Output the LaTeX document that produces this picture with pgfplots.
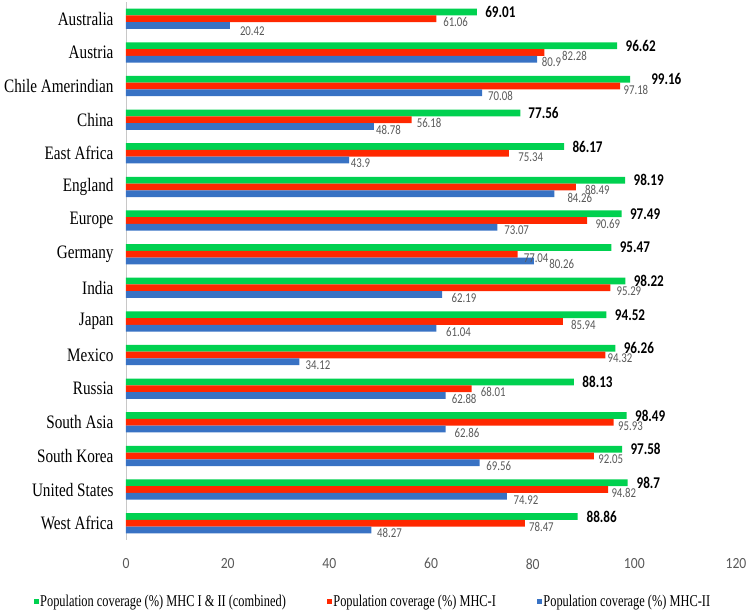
\documentclass[border=0pt]{standalone}
\usepackage{pgfplots}
\pgfplotsset{compat=1.18}
\usepackage{pgfplotstable}
\usepackage{fontspec}
\setmainfont{Liberation Serif}
\newfontfamily\catfont[FakeStretch=0.8]{Liberation Serif}
\newfontfamily\legfont[FakeStretch=0.75]{Liberation Serif}
\newfontfamily\tickfont[FakeStretch=0.88]{Carlito}
\newfontfamily\lblfont[FakeStretch=0.8]{Carlito}
\definecolor{cgreen}{RGB}{0,209,80}
\definecolor{cred}{RGB}{255,40,0}
\definecolor{cblue}{RGB}{56,114,196}
\definecolor{lblgray}{RGB}{89,89,89}
\definecolor{axgray}{RGB}{200,200,200}

% idx: category, comb/mhci/mhcii: values, gdx/rdx/bdx: label gaps (bp), bdy: blue label drop (bp)
\pgfplotstableread{
idx comb mhci mhcii gdx rdx bdx bdy
0 69.01 61.06 20.42 8.3 6.7 10 6
1 96.62 82.28 80.9 8.3 17.7 4.4 3
2 99.16 97.18 70.08 21 3.4 5.7 3.2
3 77.56 56.18 48.78 8 5 2 3.5
4 86.17 75.34 43.9 8.3 9.3 1.5 3.5
5 98.19 88.49 84.26 8.3 9 13 4
6 97.49 90.69 73.07 8.3 8.3 6.7 3
7 95.47 77.04 80.26 8.3 6 15.3 3.5
8 98.22 95.29 62.19 8.3 6 9.3 3.5
9 94.52 85.94 61.04 8.3 8 9.7 3.5
10 96.26 94.32 34.12 8.3 2 6 3.5
11 88.13 68.01 62.88 8.3 9 6 3.5
12 98.49 95.93 62.86 8.3 4.3 9 3.5
13 97.58 92.05 69.56 8.3 4.3 6.7 3.5
14 98.7 94.82 74.92 8.7 3.3 6.7 3.5
15 88.86 78.47 48.27 8.7 4 5.6 3.5
}\datatable

\begin{document}
\begin{tikzpicture}
\useasboundingbox (-126bp,-75bp) rectangle (623bp,540bp);
\begin{axis}[
  at={(0,0)}, anchor=south west,
  scale only axis, width=610bp, height=538bp,
  xbar, bar width=0.2,
  point meta=x,
  /pgf/number format/assume math mode=true,
  xmin=0, xmax=120, xtick={0,20,...,120},
  ymin=-0.5, ymax=15.5, y dir=reverse,
  ytick={0,...,15},
  yticklabels={Australia,Austria,Chile Amerindian,China,East Africa,England,Europe,Germany,India,Japan,Mexico,Russia,South Asia,South Korea,United States,West Africa},
  major tick length=0,
  axis y line*=left, axis x line*=bottom,
  x axis line style={draw=none},
  y axis line style={-, draw=axgray, line width=0.8bp},
  xticklabel style={font=\tickfont\fontsize{15.5bp}{18bp}\selectfont, text=lblgray, yshift=-15bp},
  yticklabel style={font=\catfont\fontsize{19bp}{22bp}\selectfont, text=black, xshift=-9bp},
  legend columns=3,
  legend cell align=left,
  legend style={at={(0,0)}, anchor=west, xshift=-92.5bp, yshift=-61.5bp,
    draw=none, fill=none, inner sep=0pt,
    font=\legfont\fontsize{16.5bp}{18bp}\selectfont,
    nodes={inner sep=1.5bp},
    /tikz/every even column/.append style={column sep=39.5bp}},
  legend image code/.code={\fill[#1] (0bp,-2.5bp) rectangle (5bp,2.5bp);},
]
\addplot[fill=cgreen, draw=none, bar shift=-0.2, nodes near coords,
  visualization depends on={\thisrow{gdx} \as \gdx},
  every node near coord/.append style={font=\lblfont\bfseries\fontsize{16.4bp}{18bp}\selectfont, text=black, anchor=west, inner sep=0pt, xshift=\gdx bp}]
  table[x=comb, y=idx]{\datatable};
\addlegendentry{Population coverage (\%) MHC I \& II (combined)}
\addplot[fill=cred, draw=none, bar shift=0, nodes near coords,
  visualization depends on={\thisrow{rdx} \as \rdx},
  every node near coord/.append style={font=\lblfont\fontsize{13.5bp}{16bp}\selectfont, text=lblgray, anchor=west, inner sep=0pt, xshift=\rdx bp, yshift=-3.5bp}]
  table[x=mhci, y=idx]{\datatable};
\addlegendentry{Population coverage (\%) MHC-I}
\addplot[fill=cblue, draw=none, bar shift=0.2, nodes near coords,
  visualization depends on={\thisrow{bdx} \as \bdx},
  visualization depends on={\thisrow{bdy} \as \bdy},
  every node near coord/.append style={font=\lblfont\fontsize{13.5bp}{16bp}\selectfont, text=lblgray, anchor=west, inner sep=0pt, xshift=\bdx bp, yshift=-\bdy bp}]
  table[x=mhcii, y=idx]{\datatable};
\addlegendentry{Population coverage (\%) MHC-II}
\end{axis}
\end{tikzpicture}
\end{document}
